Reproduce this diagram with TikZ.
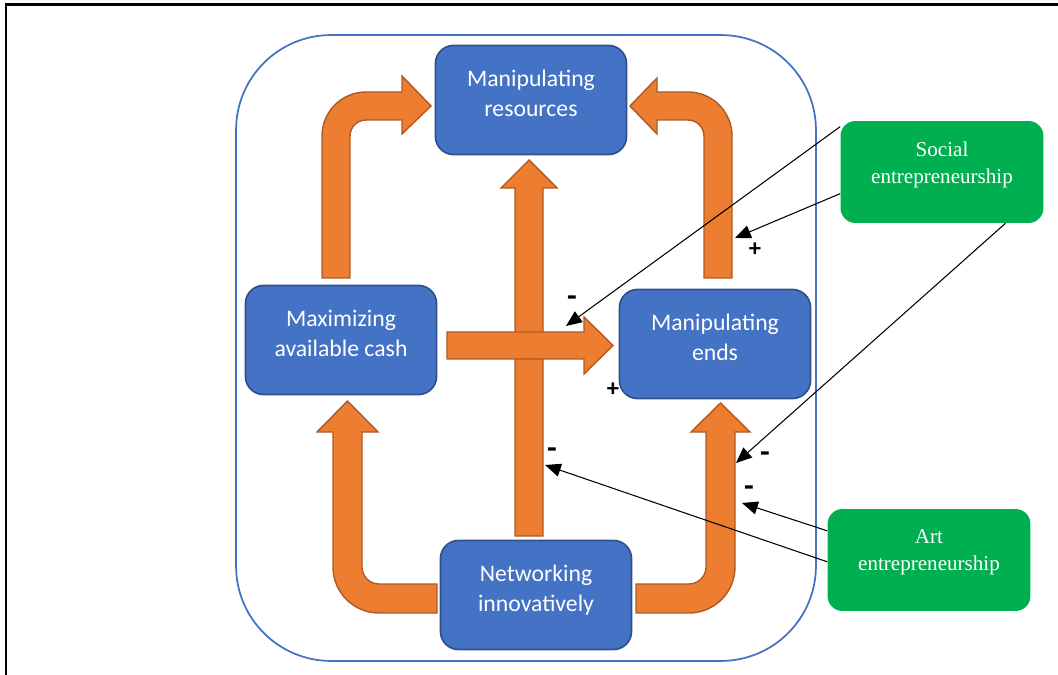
\documentclass[tikz,border=0pt]{standalone}
\usepackage{fontspec}
\setmainfont{Liberation Serif}
\newfontfamily\calibri{Carlito}
\usetikzlibrary{arrows.meta}
\usetikzlibrary{positioning}
\definecolor{officeblue}{HTML}{4472C4}
\definecolor{blueedge}{HTML}{2F528F}
\definecolor{officeorange}{HTML}{ED7D31}
\definecolor{orangeedge}{HTML}{AE5A21}
\definecolor{officegreen}{HTML}{00B050}

\begin{document}
\begin{tikzpicture}[x=0.02cm, y=-0.02cm,
    procbox/.style={draw=blueedge, line width=1pt, fill=officeblue, rounded corners=0.36cm,
      minimum width=3.82cm, minimum height=2.18cm, align=center, text=white, text depth=8pt,
      font=\calibri\fontsize{13.5}{17}\selectfont},
    factorbox/.style={fill=officegreen, rounded corners=0.3cm, minimum width=4.06cm,
      minimum height=2.04cm, align=center, text=white, text depth=11pt,
      font=\fontsize{12}{15.5}\selectfont},
    flow/.style={fill=officeorange, draw=orangeedge, line width=0.8pt},
    influence/.style={-{Triangle[length=9pt,width=7.5pt]}, line width=0.6pt},
    sign/.style={inner sep=0pt, font=\calibri\fontsize{14}{14}\selectfont\bfseries},
    minussign/.style={sign, font=\calibri\fontsize{18}{18}\selectfont\bfseries}]
    \useasboundingbox (0,0) rectangle (1058,675);
    % Page edge
    \draw[line width=1.3pt] (6,675) -- (6,4.5) -- (1058,4.5);

    % Process frame
    \node[draw=officeblue, line width=1pt, rounded corners=1.9cm,
      minimum width=11.6cm, minimum height=12.52cm] (frame) at (526,348) {};

    % Cash -> resources
    \draw[flow] (322,278) -- (322,136) .. controls (322,111.7) and (341.7,92) .. (366,92)
      -- (402,92) -- (402,76) -- (431,106) -- (402,134) -- (402,120) -- (366,120)
      .. controls (357.2,120) and (350,127.2) .. (350,136) -- (350,278) -- cycle;
    % Ends -> resources
    \draw[flow] (704,278) -- (704,136) .. controls (704,127.2) and (696.8,120) .. (688,120)
      -- (657,120) -- (657,134) -- (630,106) -- (657,78) -- (657,92) -- (688,92)
      .. controls (712.3,92) and (732,111.7) .. (732,136) -- (732,278) -- cycle;
    % Networking -> resources
    \draw[flow] (515,536) -- (515,188) -- (501,188) -- (529,160) -- (557,188)
      -- (543,188) -- (543,536) -- cycle;
    % Cash -> ends
    \draw[flow] (447,332) -- (584,332) -- (584,317) -- (613,345.5) -- (584,374)
      -- (584,359) -- (447,359) -- cycle;
    % Networking -> cash
    \draw[flow] (437,584) -- (379,584) .. controls (369.6,584) and (362,576.4) .. (362,567)
      -- (362,432) -- (378,432) -- (347.5,401) -- (317,432) -- (333,432) -- (333,567)
      .. controls (333,592.4) and (353.6,613) .. (379,613) -- (437,613) -- cycle;
    % Networking -> ends
    \draw[flow] (636,584) -- (689,584) .. controls (698.4,584) and (706,576.4) .. (706,567)
      -- (706,432) -- (691,432) -- (720.5,403) -- (750,432) -- (735,432) -- (735,567)
      .. controls (735,592.4) and (714.4,613) .. (689,613) -- (636,613) -- cycle;

    % Process blocks
    \node[procbox] (resources) at (531,100) {Manipulating\\resources};
    \node[procbox] (cash) at (341,340) {Maximizing\\available cash};
    \node[procbox] (ends) at (715,344) {Manipulating\\ends};
    \node[procbox] (network) at (536,595) {Networking\\innovatively};

    % Entrepreneurship types
    \node[factorbox] (social) at (942,172) {Social\\entrepreneurship};
    \node[factorbox] (art) at (929,560) {Art\\entrepreneurship};

    % Where the influences hit the flows
    \coordinate (cashflow) at (566,326);
    \coordinate (resflow) at (735,238);
    \coordinate (endsflowS) at (736,463);
    \coordinate (endsflowA) at (742,503);
    \coordinate (netflow) at (545,465);

    \draw[influence] (social.156) -- (cashflow);
    \draw[influence] (social.192) -- (resflow);
    \draw[influence] (social.321) -- (endsflowS);
    \draw[influence] (art.164) -- (endsflowA);
    \draw[influence] (art.181) -- (netflow);

    % Signs
    \node[minussign] (minuscash) at (572,301) {-};
    \node[sign] (plusres) at (755,250) {+};
    \node[sign] (plusends) at (613,390) {+};
    \node[minussign] (minusendsS) at (765,457) {-};
    \node[minussign] (minusendsA) at (749,491) {-};
    \node[minussign] (minusnet) at (552,453) {-};
\end{tikzpicture}
\end{document}
